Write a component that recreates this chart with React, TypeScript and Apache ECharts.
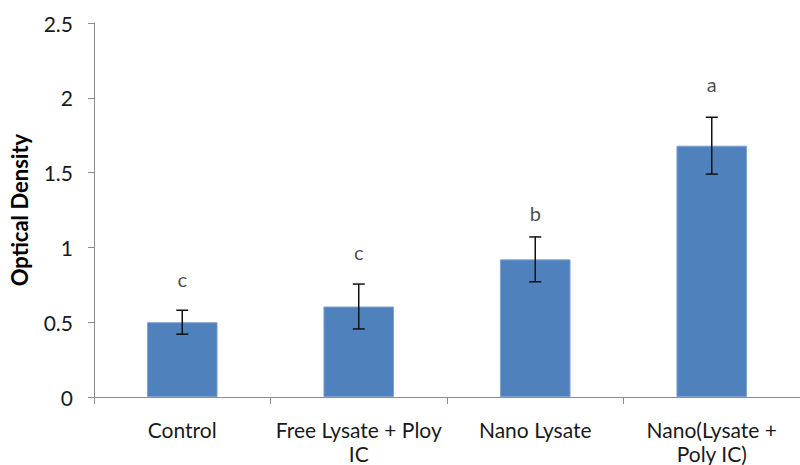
import React, { useEffect, useRef } from "react";
import * as echarts from "echarts";

const categories = ["Control", "Free Lysate + Ploy\nIC", "Nano Lysate", "Nano(Lysate +\nPoly IC)"];
const meanValues = [0.5, 0.605, 0.92, 1.68];
const errorValues = [0.08, 0.15, 0.15, 0.19];
const groupLetters = ["c", "c", "b", "a"];
const letterHeights = [0.79, 0.97, 1.23, 2.09];
const yTicks = { min: 0, max: 2.5, interval: 0.5 };

export default function App() {
  const ref = useRef<HTMLDivElement>(null);
  useEffect(() => {
    document.body.style.margin = "0";
    if (!ref.current) return;
    const chart = echarts.init(ref.current, null, { renderer: "svg" });
    const font = "Lato, 'Open Sans', sans-serif";
    chart.setOption({
      animation: false,
      grid: { left: 94, right: -12, top: 23, bottom: 66, containLabel: false },
      xAxis: {
        type: "category",
        data: categories,
        axisLine: { lineStyle: { color: "#8c8c8c", width: 1 } },
        axisTick: { show: true, alignWithLabel: false, length: 7, lineStyle: { color: "#8c8c8c" } },
        axisLabel: { color: "#1a1a1a", fontSize: 21, fontFamily: font, margin: 20, lineHeight: 24, interval: 0 },
      },
      yAxis: {
        type: "value",
        min: yTicks.min,
        max: yTicks.max,
        interval: yTicks.interval,
        name: "Optical Density",
        nameLocation: "middle",
        nameGap: 64,
        nameTextStyle: { fontSize: 22, fontWeight: "bold", color: "#000", fontFamily: font },
        splitLine: { show: false },
        axisLine: { show: true, lineStyle: { color: "#8c8c8c", width: 1 } },
        axisTick: { show: true, length: 6, lineStyle: { color: "#8c8c8c" } },
        axisLabel: { color: "#1a1a1a", fontSize: 21, fontFamily: font, margin: 21, formatter: (v: number) => String(v) },
      },
      series: [
        {
          type: "bar",
          data: meanValues,
          barWidth: "40%",
          itemStyle: { color: "#4f81bd", borderColor: "#7ea3d3", borderWidth: 1 },
          z: 2,
        },
        {
          type: "custom",
          data: meanValues.map((m, i) => [i, m - errorValues[i], m + errorValues[i]]),
          z: 5,
          renderItem: (params: any, api: any) => {
            const x = api.value(0);
            const lo = api.coord([x, api.value(1)]);
            const hi = api.coord([x, api.value(2)]);
            const cap = 6;
            const style = { stroke: "#111", lineWidth: 1.5 };
            return {
              type: "group",
              children: [
                { type: "line", shape: { x1: lo[0], y1: lo[1], x2: hi[0], y2: hi[1] }, style },
                { type: "line", shape: { x1: hi[0] - cap, y1: hi[1], x2: hi[0] + cap, y2: hi[1] }, style },
                { type: "line", shape: { x1: lo[0] - cap, y1: lo[1], x2: lo[0] + cap, y2: lo[1] }, style },
              ],
            };
          },
        },
        {
          type: "scatter",
          symbolSize: 0,
          data: letterHeights.map((h, i) => [i, h]),
          label: {
            show: true,
            position: "inside",
            formatter: (p: any) => groupLetters[p.dataIndex],
            fontSize: 20,
            fontFamily: font,
            color: "#1a1a1a",
          },
          z: 6,
        },
      ],
    });
    return () => chart.dispose();
  }, []);
  return <div ref={ref} style={{ width: 800, height: 465 }} />;
}
